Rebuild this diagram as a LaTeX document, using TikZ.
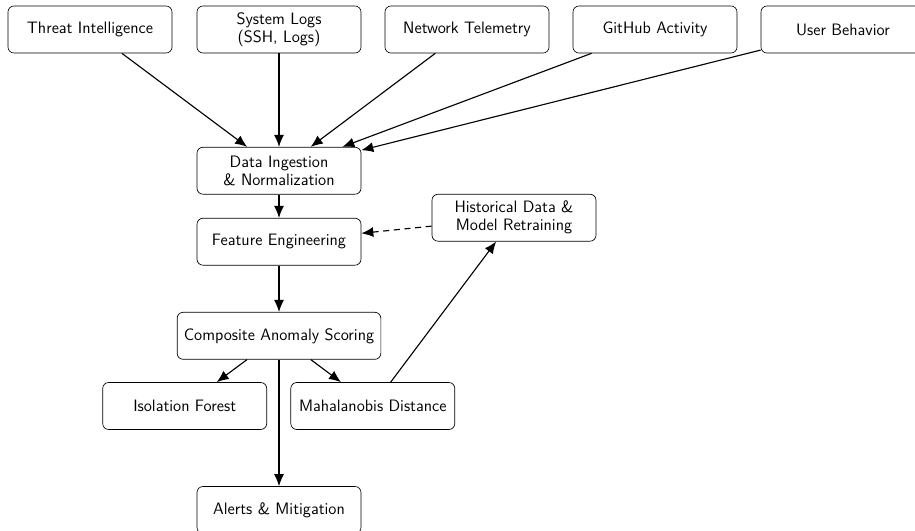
\documentclass[tikz,border=0pt]{standalone}
\usepackage{fontspec}
\usetikzlibrary{arrows.meta}
\begin{document}
\begin{tikzpicture}[x=0.75pt,y=-0.75pt,
  box/.style={draw, rounded corners=4.5pt, line width=0.5pt, minimum width=123pt,
    minimum height=35.25pt, inner xsep=5pt, inner ysep=2pt, align=center,
    font=\sffamily\fontsize{12.4}{13.6}\selectfont},
  arr/.style={-{Latex[length=9pt,width=7.5pt]}, line width=0.85pt},
  dsh/.style={dash pattern=on 4.5pt off 3.5pt}]
\useasboundingbox (0,0) rectangle (915,531);
\clip (0,0) rectangle (915,531);
\node[box] (ti) at (90,29.5) {Threat Intelligence};
\node[box] (sl) at (279,29.5) {System Logs\\(SSH, Logs)};
\node[box] (nt) at (467,29.5) {Network Telemetry};
\node[box] (gh) at (655,29.5) {GitHub Activity};
\node[box] (ub) at (843,29.5) {User Behavior};
\node[box] (di) at (279,170.7) {Data Ingestion\\\& Normalization};
\node[box] (fe) at (279,241.7) {Feature Engineering};
\node[box] (hd) at (514,217.7) {Historical Data \&\\Model Retraining};
\node[box] (cs) at (279,335.8) {Composite Anomaly Scoring};
\node[box] (if) at (184.7,406) {Isolation Forest};
\node[box] (md) at (372.8,406) {Mahalanobis Distance};
\node[box] (am) at (279,510) {Alerts \& Mitigation};
\draw[arr] (ti) -- (di);
\draw[arr] (sl) -- (di);
\draw[arr] (nt) -- (di);
\draw[arr] (gh) -- (di);
\draw[arr] (ub) -- (di);
\draw[arr] (di) -- (fe);
\draw[arr,dsh] (hd) -- (fe);
\draw[arr] (fe) -- (cs);
\draw[arr] (cs) -- (if);
\draw[arr] (cs) -- (md);
\draw[arr] (cs) -- (am);
\draw[arr] (md) -- (hd);
\end{tikzpicture}
\end{document}
